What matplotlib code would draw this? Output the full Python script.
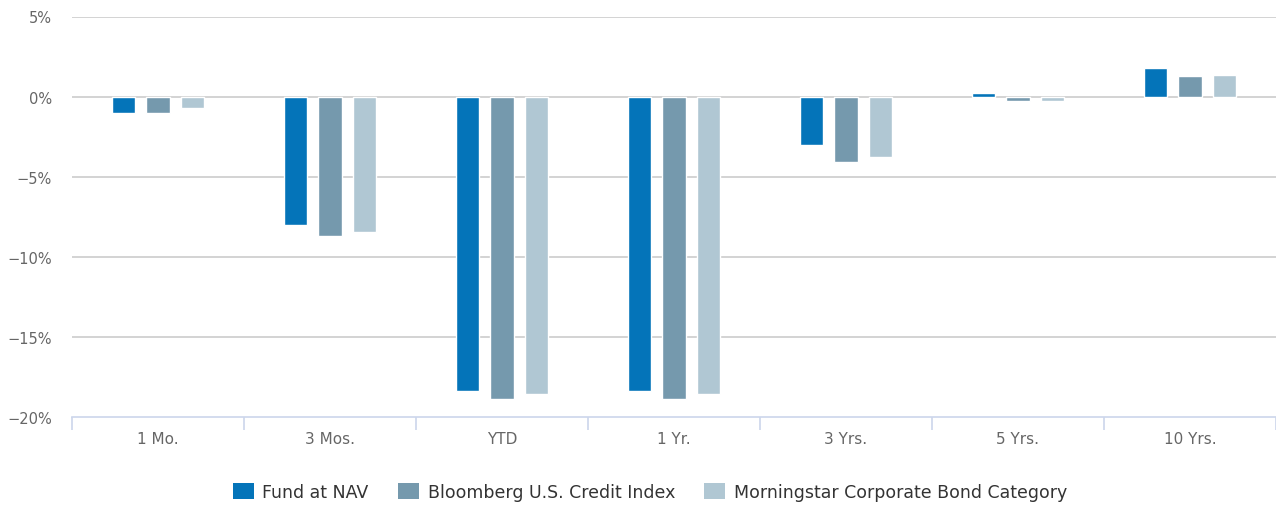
import matplotlib
matplotlib.use("Agg")
import matplotlib.pyplot as plt
from matplotlib.patches import Patch
import numpy as np

plt.rcParams["font.family"] = "sans-serif"
plt.rcParams["font.sans-serif"] = ["DejaVu Sans"]

# trailing returns, percent
periods = ["1 Mo.", "3 Mos.", "YTD", "1 Yr.", "3 Yrs.", "5 Yrs.", "10 Yrs."]
fund_nav = [-1.05, -8.0, -18.4, -18.4, -3.05, 0.25, 1.8]
bbg_credit = [-1.05, -8.7, -18.9, -18.9, -4.1, -0.3, 1.3]
ms_corp_bond = [-0.7, -8.45, -18.55, -18.55, -3.75, -0.3, 1.37]

series_names = ["Fund at NAV", "Bloomberg U.S. Credit Index",
                "Morningstar Corporate Bond Category"]
colors = ["#0474b9", "#7599ad", "#b0c7d3"]

W, H = 1276, 506
fig = plt.figure(figsize=(W / 100, H / 100), dpi=100)
ax = fig.add_axes([72 / W, 88 / H, 1204 / W, 400.5 / H])

x = np.arange(len(periods))
offsets = [-0.2, 0.0, 0.2]
bw = 0.135
for vals, off, col in zip([fund_nav, bbg_credit, ms_corp_bond], offsets, colors):
    ax.bar(x + off, vals, width=bw, color=col, edgecolor="white",
           linewidth=1.0, zorder=3)

ax.set_xlim(-0.5, len(periods) - 0.5)
ax.set_ylim(-20, 5)

yt = [5, 0, -5, -10, -15, -20]
ax.set_yticks(yt)
ax.set_yticklabels([f"{v}%".replace("-", "\u2212") for v in yt])
for v in yt[:-1]:
    ax.axhline(v, color="#cccccc", linewidth=1.2, zorder=1)

for s in ["top", "right", "left"]:
    ax.spines[s].set_visible(False)
ax.spines["bottom"].set_color("#ccd6eb")
ax.spines["bottom"].set_linewidth(1.2)

ax.tick_params(axis="y", length=0, pad=14.4, labelsize=10.5, labelcolor="#666666")
ax.set_xticks(x)
ax.set_xticklabels(periods)
ax.tick_params(axis="x", which="major", length=0, pad=10, labelsize=11,
               labelcolor="#666666")
ax.set_xticks(np.arange(len(periods) + 1) - 0.5, minor=True)
ax.tick_params(axis="x", which="minor", length=9, width=1.2, color="#ccd6eb")

handles = [Patch(facecolor=c, edgecolor="none") for c in colors]
fig.legend(handles, series_names, loc="center", bbox_to_anchor=(650 / W, 1 - 493 / H),
           ncol=3, frameon=False, fontsize=12.5, labelcolor="#333333",
           handlelength=1.2, handleheight=1.0, handletextpad=0.5,
           columnspacing=1.7)

fig.savefig("out.png", dpi=100)
